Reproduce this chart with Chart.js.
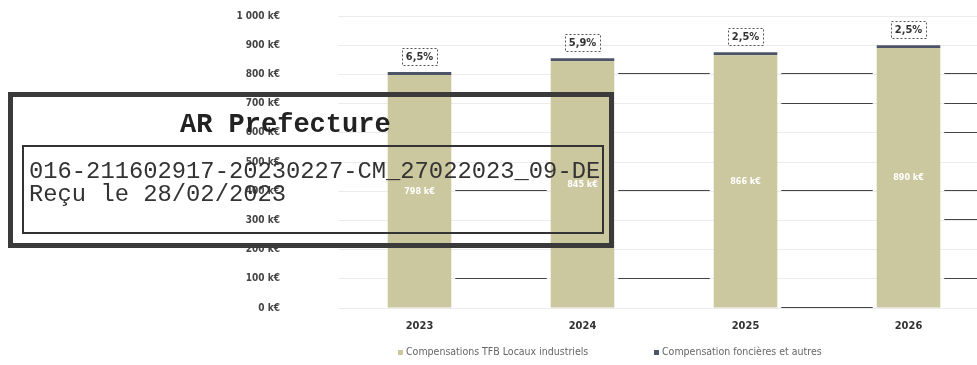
<!DOCTYPE html>
<html>
<head>
<meta charset="utf-8">
<script src="https://cdn.jsdelivr.net/npm/chart.js@4/dist/chart.umd.min.js"></script>
<style>
body{margin:0;background:#fff;overflow:hidden;}
#wrap{position:relative;width:990px;height:365px;}
#legend{position:absolute;top:345px;left:0;width:977px;height:16px;font-family:'Liberation Sans Narrow','DejaVu Sans Condensed',sans-serif;font-size:10.5px;color:#666;}
#legend span{position:absolute;white-space:nowrap;}
#legend i{display:inline-block;width:5px;height:5px;margin-right:3px;vertical-align:middle;}
#stamp{position:absolute;left:8px;top:92px;width:596px;height:146px;border:5px solid #3a3a3a;font-family:'Liberation Mono','DejaVu Sans Mono',monospace;color:#222;}
#stamp h1{margin:0;position:absolute;left:167px;top:13px;font-size:27px;font-weight:bold;line-height:30px;white-space:nowrap;}
#stamp .inner{position:absolute;left:9px;top:48px;width:578px;height:85px;border:2px solid #333;}
#stamp p{margin:0;position:absolute;left:5px;font-size:23.8px;line-height:24px;white-space:nowrap;color:#333;}
</style>
</head>
<body>
<div id="wrap">
<canvas id="chart" width="990" height="365"></canvas>
<div id="legend"></div>
<div id="stamp">
<h1>AR Prefecture</h1>
<div class="inner">
<p style="top:13px">016-211602917-20230227-CM_27022023_09-DE</p>
<p style="top:36px">Reçu le 28/02/2023</p>
</div>
</div>
</div>
<script>

// DATA

const years=["2023","2024","2025","2026"];
const seriesNames=["Compensations TFB Locaux industriels","Compensation foncières et autres"];
const tfbLocaux=[798,845,866,890];
const foncieres=[10,10,10,10];
const growth=["6,5%","5,9%","2,5%","2,5%"];
const yTicks=[0,100,200,300,400,500,600,700,800,900,1000];

// gridlines that print darker, per gap after each bar
const darkRules=[[400,100],[800,400,100],[800,700,400,0],[800,700,600,400,300,100]];

const colors=["#cbc79f","#4e5468"];
const font="'Liberation Sans Narrow','DejaVu Sans Condensed',sans-serif";

function fmtK(v){
return String(v).replace(/\B(?=(\d{3})+(?!\d))/g," ")+" k€";
}


// DARK GRID SEGMENTS

const darkGrid={
id:"darkGrid",
beforeDatasetsDraw(chart){
const ctx=chart.ctx;
const bars=chart.getDatasetMeta(0).data;
const y=chart.scales.y;
ctx.save();
ctx.strokeStyle="#444";
ctx.lineWidth=1.2;
darkRules.forEach((vals,g)=>{
const x0=bars[g].x+bars[g].width/2+4;
const x1=g+1<bars.length?bars[g+1].x-bars[g+1].width/2-4:chart.chartArea.right;
vals.forEach(v=>{
const py=Math.round(y.getPixelForValue(v))-0.5;
ctx.beginPath();
ctx.moveTo(x0,py);
ctx.lineTo(x1,py);
ctx.stroke();
});
});
ctx.restore();
}
};


// LABELS ON BARS

const barLabels={
id:"barLabels",
afterDatasetsDraw(chart){
const ctx=chart.ctx;
const base=chart.getDatasetMeta(0).data;
const tops=chart.getDatasetMeta(1).data;
ctx.save();
ctx.textAlign="center";
ctx.textBaseline="middle";

base.forEach((bar,i)=>{
ctx.fillStyle="#fff";
ctx.font="bold 9px "+font;
ctx.fillText(fmtK(tfbLocaux[i]),bar.x,(bar.y+bar.base)/2);
});

tops.forEach((bar,i)=>{
const y=bar.y-15;
ctx.fillStyle="#333";
ctx.font="bold 11px "+font;
ctx.fillText(growth[i],bar.x,y);
const w=ctx.measureText(growth[i]).width+8;
ctx.strokeStyle="#555";
ctx.lineWidth=1;
ctx.setLineDash([2,2]);
ctx.strokeRect(Math.round(bar.x-w/2)+0.5,Math.round(y-9)+0.5,Math.round(w),17);
});

ctx.restore();
}
};


// CHART

new Chart(document.getElementById("chart"),{
type:"bar",
data:{
labels:years,
datasets:[
{
label:seriesNames[0],
data:tfbLocaux,
backgroundColor:colors[0],
barPercentage:0.39,
categoryPercentage:1
},
{
label:seriesNames[1],
data:foncieres,
backgroundColor:colors[1],
barPercentage:0.39,
categoryPercentage:1
}
]
},
options:{
responsive:false,
animation:false,
layout:{padding:{top:16,right:0,left:0,bottom:0}},
plugins:{
legend:{display:false},
tooltip:{enabled:false}
},
scales:{
x:{
stacked:true,
grid:{display:false},
border:{display:false},
ticks:{
color:"#333",
padding:4,
font:{family:font,size:11,weight:"bold"}
},
afterFit(scale){scale.height=57;}
},
y:{
stacked:true,
min:0,
max:1000,
afterBuildTicks(scale){
scale.ticks=yTicks.map(v=>({value:v}));
},
grid:{color:"#ececec",drawTicks:true,tickLength:54,tickColor:"rgba(0,0,0,0)"},
border:{display:false},
ticks:{
color:"#444",
padding:4,
font:{family:font,size:10,weight:"bold"},
callback:v=>fmtK(v)
},
afterFit(scale){scale.width=338;}
}
}
},
plugins:[darkGrid,barLabels]
});


// LEGEND

const legend=document.getElementById("legend");
const legendX=[398,654];
seriesNames.forEach((name,i)=>{
const s=document.createElement("span");
s.style.left=legendX[i]+"px";
s.innerHTML='<i style="background:'+colors[i]+'"></i>'+name;
legend.appendChild(s);
});

</script>
</body>
</html>
